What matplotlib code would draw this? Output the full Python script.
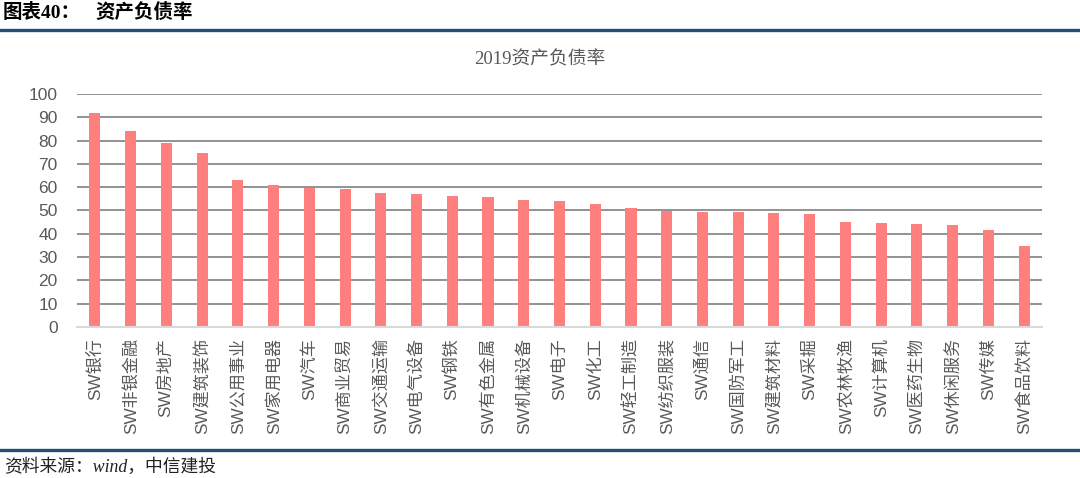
import matplotlib
matplotlib.use("Agg")
import matplotlib.pyplot as plt
from matplotlib.lines import Line2D

plt.rcParams['font.family'] = ['Liberation Sans', 'Noto Sans CJK SC', 'DejaVu Sans']

categories = ["SW银行", "SW非银金融", "SW房地产", "SW建筑装饰", "SW公用事业", "SW家用电器",
              "SW汽车", "SW商业贸易", "SW交通运输", "SW电气设备", "SW钢铁", "SW有色金属",
              "SW机械设备", "SW电子", "SW化工", "SW轻工制造", "SW纺织服装", "SW通信",
              "SW国防军工", "SW建筑材料", "SW采掘", "SW农林牧渔", "SW计算机", "SW医药生物",
              "SW休闲服务", "SW传媒", "SW食品饮料"]
values = [91.7, 84.1, 79.1, 74.8, 63.1, 60.9, 59.5, 59.1, 57.6, 56.9, 56.4, 55.7,
          54.5, 54.1, 52.7, 51.1, 49.8, 49.5, 49.5, 49.0, 48.6, 44.9, 44.5, 44.2,
          43.8, 41.8, 34.9]
yticks = [0, 10, 20, 30, 40, 50, 60, 70, 80, 90, 100]

W, H = 1080, 478
fig = plt.figure(figsize=(W / 100, H / 100), dpi=100)
ax = fig.add_axes([77 / W, 1 - 327 / H, (1042 - 77) / W, (327 - 94) / H])

x = list(range(len(categories)))
ax.bar(x, values, width=0.31, color="#FF7F7F", zorder=3)
ax.set_xlim(-0.5, len(categories) - 0.5)
ax.set_ylim(0, 100)
ax.set_yticks(yticks)
ax.set_yticklabels([str(v) for v in yticks], fontsize=12.5, color="#595959")
ax.set_xticks(x)
ax.set_xticklabels(categories, rotation=90, fontsize=12.3, color="#595959")
ax.tick_params(axis="both", length=0)
ax.tick_params(axis="y", pad=14)
ax.tick_params(axis="x", pad=8)
for v in yticks[1:]:
    ax.axhline(v, color="#7f7f7f", linewidth=1.2, zorder=1)
for s in ["top", "right", "left"]:
    ax.spines[s].set_visible(False)
ax.spines["bottom"].set_color("#d9d9d9")
ax.spines["bottom"].set_linewidth(1.5)
ax.spines["bottom"].set_zorder(4)

# Chart title
fig.text(540 / W, 1 - 60 / H, "2019资产负债率", ha="center", va="center",
         fontsize=13.5, color="#595959", family=['Liberation Serif', 'Noto Sans CJK SC'])

# Header
fig.text(3 / W, 1 - 12 / H, "图表40：", ha="left", va="center", fontsize=14,
         fontweight="bold", color="#000000", family=['Liberation Serif', 'Noto Sans CJK SC'])
fig.text(95 / W, 1 - 12 / H, "资产负债率", ha="left", va="center", fontsize=14,
         fontweight="bold", color="#000000", family=['Noto Sans CJK SC'])

# Blue rules
fig.add_artist(Line2D([0, 1], [1 - 29.5 / H, 1 - 29.5 / H], color="#1F4E79", linewidth=2.4,
                      transform=fig.transFigure))
fig.add_artist(Line2D([0, 1], [1 - 450 / H, 1 - 450 / H], color="#1F4E79", linewidth=2.4,
                      transform=fig.transFigure))

# Source
fig.text(4 / W, 1 - 467 / H, "资料来源：wind，中信建投", ha="left", va="center", fontsize=12.8,
         style="italic", color="#222222", family=['Liberation Serif', 'Noto Sans CJK SC'])

fig.savefig("out.png", dpi=100)
